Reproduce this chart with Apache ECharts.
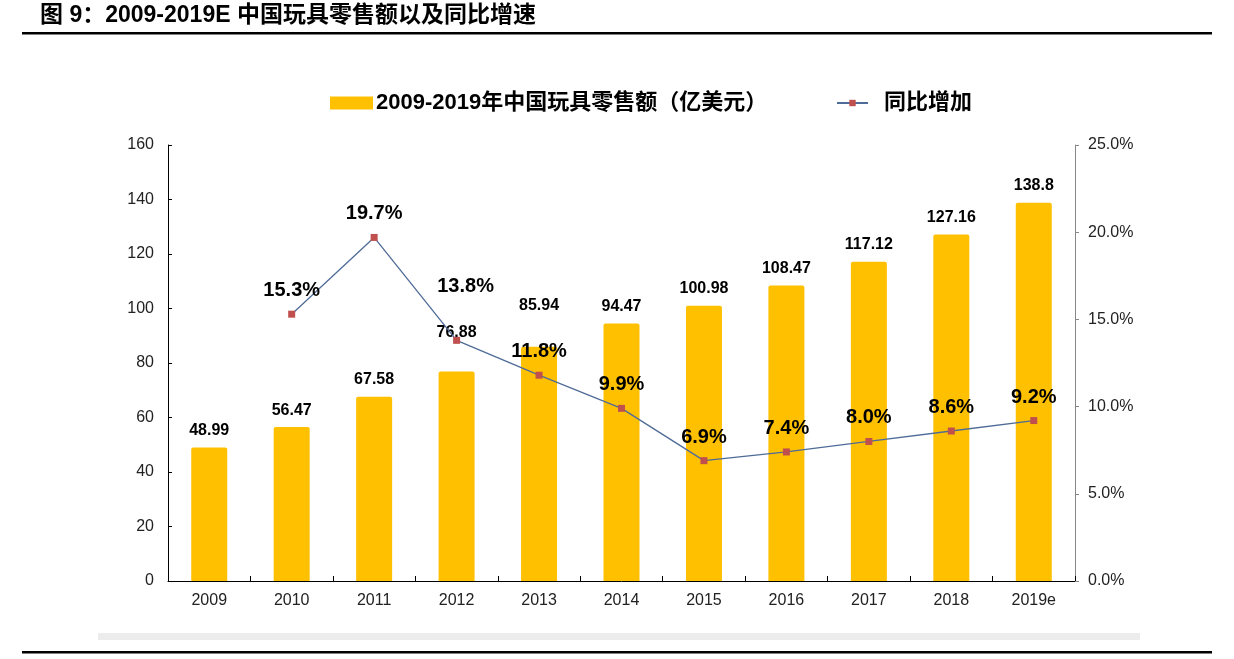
<!DOCTYPE html>
<html>
<head>
<meta charset="utf-8">
<script src="https://cdn.jsdelivr.net/npm/echarts@6/dist/echarts.min.js"></script>
<style>
html,body{margin:0;padding:0;background:#fff;}
#chart{width:1234px;height:659px;}
</style>
</head>
<body>
<div id="chart"></div>
<script>
const categories = ['2009','2010','2011','2012','2013','2014','2015','2016','2017','2018','2019e'];
const salesValues = [48.99, 56.47, 67.58, 76.88, 85.94, 94.47, 100.98, 108.47, 117.12, 127.16, 138.8];
const growthValues = [null, 15.3, 19.7, 13.8, 11.8, 9.9, 6.9, 7.4, 8.0, 8.6, 9.2];
const leftTicks = {min: 0, max: 160, interval: 20};
const rightTicks = {min: 0, max: 25, interval: 5};
const barName = '2009-2019年中国玩具零售额（亿美元）';
const lineName = '同比增加';
const titleText = '图 9：2009-2019E 中国玩具零售额以及同比增速';

// label placement tweaks (style only)
const barLabelDistance = [9, 9, 9, 31, 33, 9, 9, 9, 9, 9, 9];
const lineLabelDistance = [10, 10, 10, 40, 10, 10, 10, 10, 10, 10, 10];
const lineLabelOffsetX = [0, 0, 0, 9, 0, 0, 0, 0, 0, 0, 0];

const FONT = '"Liberation Sans", Arial, "Noto Sans CJK SC", sans-serif';

const chart = echarts.init(document.getElementById('chart'), null, {renderer: 'canvas'});

const barData = salesValues.map((v, i) => ({
  value: v,
  label: {distance: barLabelDistance[i]}
}));
const lineData = growthValues.map((v, i) => ({
  value: v,
  label: {distance: lineLabelDistance[i], offset: [lineLabelOffsetX[i], 0]}
}));

chart.setOption({
  backgroundColor: '#fff',
  animation: false,
  textStyle: {fontFamily: FONT},
  title: {
    text: titleText,
    left: 40,
    top: 4,
    padding: 0,
    textStyle: {fontFamily: FONT, fontSize: 23, fontWeight: 'bold', color: '#000'}
  },
  graphic: [
    {type: 'rect', shape: {x: 22, y: 32, width: 1190, height: 2.5}, style: {fill: '#000'}},
    {type: 'rect', shape: {x: 98, y: 633, width: 1042, height: 7}, style: {fill: '#ececec'}},
    {type: 'rect', shape: {x: 22, y: 651, width: 1190, height: 2.5}, style: {fill: '#000'}}
  ],
  legend: [
    {
      data: [barName],
      left: 330,
      top: 92,
      padding: 0,
      icon: 'rect',
      itemWidth: 43,
      itemHeight: 13,
      textStyle: {fontFamily: FONT, fontSize: 22, fontWeight: 'bold', color: '#000', padding: [0,0,0,-2]}
    },
    {
      data: [lineName],
      left: 836,
      top: 92,
      padding: 0,
      itemWidth: 31,
      itemHeight: 8,
      textStyle: {fontFamily: FONT, fontSize: 22, fontWeight: 'bold', color: '#000', padding: [0,0,0,11]}
    }
  ],
  grid: {left: 168, right: 159, top: 145, bottom: 78, containLabel: false},
  xAxis: {
    type: 'category',
    data: categories,
    axisLine: {lineStyle: {color: '#000', width: 1}},
    axisTick: {show: true, inside: true, length: 5, lineStyle: {color: '#000'}},
    axisLabel: {fontFamily: FONT, fontSize: 16, color: '#222', margin: 12}
  },
  yAxis: [
    {
      type: 'value',
      min: leftTicks.min, max: leftTicks.max, interval: leftTicks.interval,
      splitLine: {show: false},
      axisLine: {show: true, lineStyle: {color: '#000'}},
      axisTick: {show: true, inside: true, length: 4, lineStyle: {color: '#000'}},
      axisLabel: {fontFamily: FONT, fontSize: 16, color: '#222', margin: 14}
    },
    {
      type: 'value',
      position: 'right',
      min: rightTicks.min, max: rightTicks.max, interval: rightTicks.interval,
      splitLine: {show: false},
      axisLine: {show: true, lineStyle: {color: '#888'}},
      axisTick: {show: true, inside: false, length: 4, lineStyle: {color: '#888'}},
      axisLabel: {fontFamily: FONT, fontSize: 16, color: '#222', margin: 13,
        formatter: v => v.toFixed(1) + '%'}
    }
  ],
  series: [
    {
      name: barName,
      type: 'bar',
      yAxisIndex: 0,
      data: barData,
      barWidth: 36,
      itemStyle: {color: '#FFC000', borderRadius: [2,2,0,0]},
      label: {
        show: true, position: 'top',
        fontFamily: FONT, fontSize: 16, fontWeight: 'bold', color: '#000'
      }
    },
    {
      name: lineName,
      type: 'line',
      yAxisIndex: 1,
      data: lineData,
      connectNulls: false,
      symbol: 'rect',
      symbolSize: 7,
      lineStyle: {color: '#4F6B97', width: 1.3},
      itemStyle: {color: '#C0504D'},
      label: {
        show: true, position: 'top',
        fontFamily: FONT, fontSize: 20, fontWeight: 'bold', color: '#000',
        formatter: p => p.value == null ? '' : Number(p.value).toFixed(1) + '%'
      },
      z: 5
    }
  ]
});
</script>
</body>
</html>
